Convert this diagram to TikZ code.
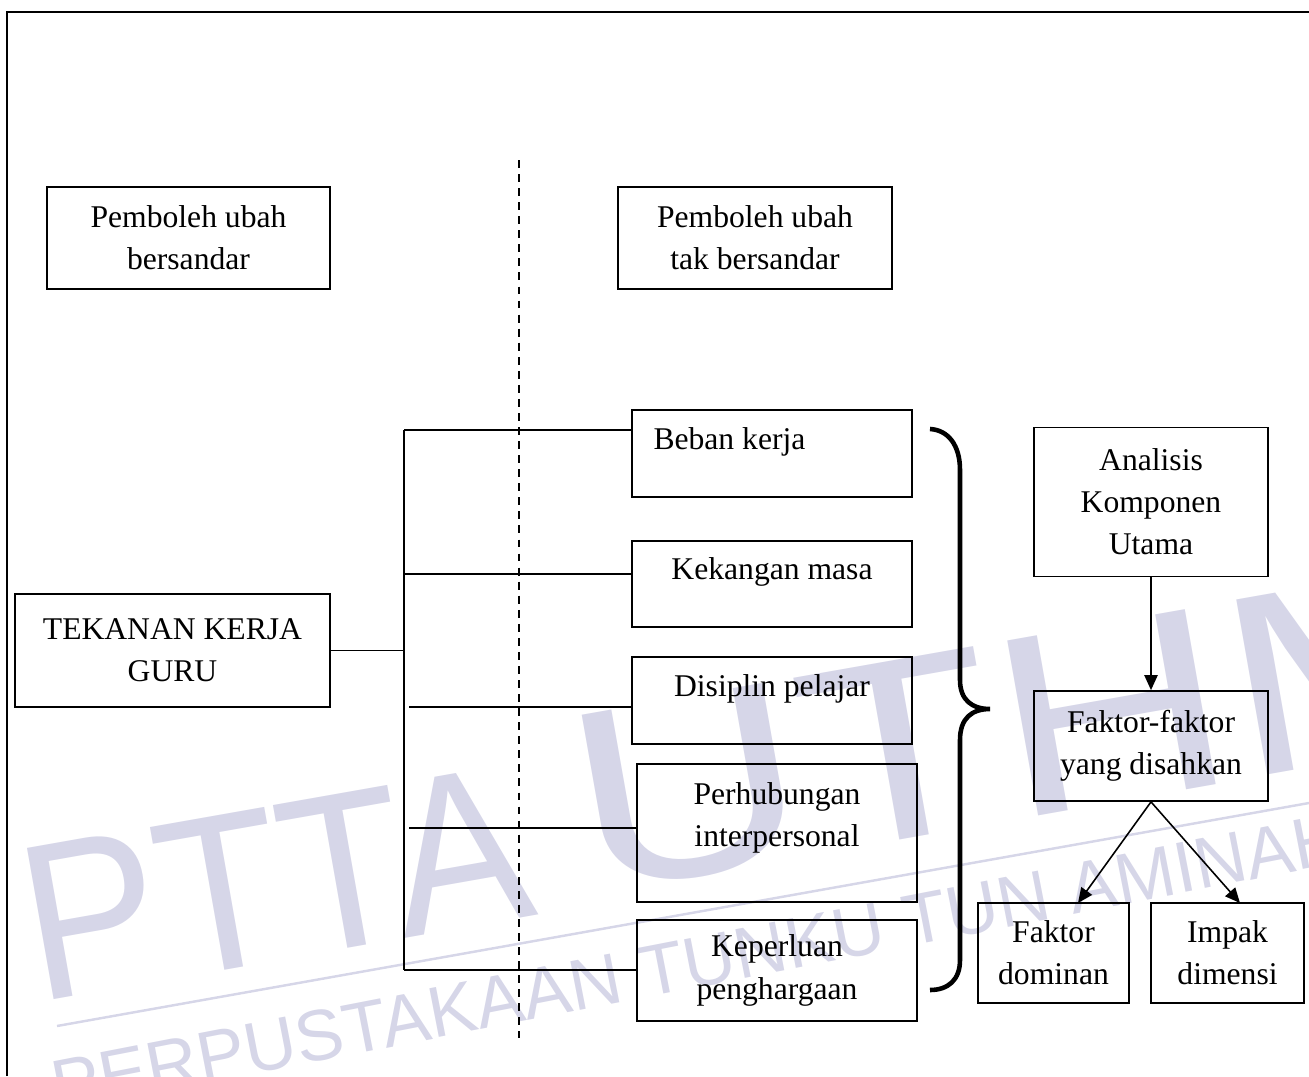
\documentclass[tikz,border=0pt]{standalone}
\usepackage{fontspec}
\setmainfont{Liberation Serif}
\newfontfamily\wmfont{Liberation Sans}
\usetikzlibrary{positioning,arrows.meta}
\definecolor{wmcol}{RGB}{214,214,232}
\begin{document}
\begin{tikzpicture}[x=0.02cm, y=-0.02cm,
  box/.style={draw, line width=1pt, inner sep=0pt, align=center, font=\fontsize{18}{24}\selectfont},
  boxtext/.style={inner sep=0pt, align=center, font=\fontsize{18}{24}\selectfont},
  link/.style={line width=0.9pt},
  arr/.style={line width=0.9pt, -{Triangle[length=8.5pt,width=7.5pt]}},
  wm/.style={text=wmcol, inner sep=0pt, anchor=base west}]
\useasboundingbox (0,0) rectangle (1309,1076);
\clip (0,0) rectangle (1309,1076);
% watermark
\node[wm, rotate=10, xscale=0.92, font=\wmfont\fontsize{127}{127}\selectfont] (wmptta) at (37,1003) {PTTA};
\node[wm, rotate=10, xscale=1.25, font=\wmfont\fontsize{147}{147}\selectfont] (wmuthm) at (588,895) {UTHM};
\node[wm, rotate=11, xscale=1.0, font=\wmfont\fontsize{41}{41}\selectfont] (wmlib) at (57,1112) {PERPUSTAKAAN TUNKU TUN AMINAH};
\draw[wmcol, line width=1.4pt] (57,1026) -- (1309,803);
% frame
\draw[line width=1pt] (7,1076) -- (7,12) -- (1309,12);
\draw[line width=0.8pt, dash pattern=on 4.5pt off 3.5pt] (519,160) -- (519,1038);
% boxes
\node[box, minimum width=5.66cm, minimum height=2.04cm] (depvar) at (188.5,238) {Pemboleh ubah\\bersandar};
\node[box, minimum width=5.48cm, minimum height=2.04cm] (indvar) at (755,238) {Pemboleh ubah\\tak bersandar};
\node[box, minimum width=6.3cm, minimum height=2.26cm] (guru) at (172.5,650.5) {TEKANAN KERJA\\GURU};
\node[box, minimum width=5.6cm, minimum height=1.74cm] (beban) at (772,453.5) {};
\node[boxtext, below right=0.36cm and 0.44cm of beban.north west] (bebantext) {Beban kerja};
\node[box, minimum width=5.6cm, minimum height=1.72cm] (kekangan) at (772,584) {};
\node[boxtext, below=0.34cm of kekangan.north] (kekangantext) {Kekangan masa};
\node[box, minimum width=5.6cm, minimum height=1.74cm] (disiplin) at (772,700.5) {};
\node[boxtext, below=0.36cm of disiplin.north] (disiplintext) {Disiplin pelajar};
\node[box, minimum width=5.6cm, minimum height=2.76cm] (perh) at (777,833) {};
\node[boxtext, below=0.38cm of perh.north] (perhtext) {Perhubungan\\interpersonal};
\node[box, minimum width=5.6cm, minimum height=2.02cm] (keperluan) at (777,970.5) {Keperluan\\penghargaan};
\node[box, minimum width=4.68cm, minimum height=2.98cm] (analisis) at (1151,502) {Analisis\\Komponen\\Utama};
\node[box, minimum width=4.68cm, minimum height=2.2cm] (disahkan) at (1151,746) {Faktor-faktor\\yang disahkan};
\node[box, minimum width=3.02cm, minimum height=2cm] (dominan) at (1053.5,953) {Faktor\\dominan};
\node[box, minimum width=3.06cm, minimum height=2cm] (impak) at (1227.5,953) {Impak\\dimensi};
% tree
\coordinate (jn) at (404,650.5);
\coordinate (ttop) at (404,430);
\coordinate (tbot) at (404,970);
\coordinate (b2) at (404,574);
\coordinate (b3) at (409,707);
\coordinate (b4) at (409,828);
\draw[link] (guru.east) -- (jn);
\draw[link] (ttop) -- (tbot);
\draw[link] (ttop) -- (ttop -| beban.west);
\draw[link] (b2) -- (b2 -| kekangan.west);
\draw[link] (b3) -- (b3 -| disiplin.west);
\draw[link] (b4) -- (b4 -| perh.west);
\draw[link] (tbot) -- (tbot -| keperluan.west);
% brace
\draw[line width=2.6pt] (930,429) .. controls (948,430) and (960,445) .. (960,470) -- (960,680)
  .. controls (960,700) and (972,709) .. (990,709) .. controls (972,709) and (960,718) .. (960,740)
  -- (960,960) .. controls (960,980) and (948,990) .. (930,990);
% arrows
\coordinate (domtip) at (1078,903);
\coordinate (imptip) at (1240,903);
\draw[arr] (analisis) -- (disahkan);
\draw[arr] (disahkan.south) -- (domtip);
\draw[arr] (disahkan.south) -- (imptip);
\end{tikzpicture}
\end{document}
